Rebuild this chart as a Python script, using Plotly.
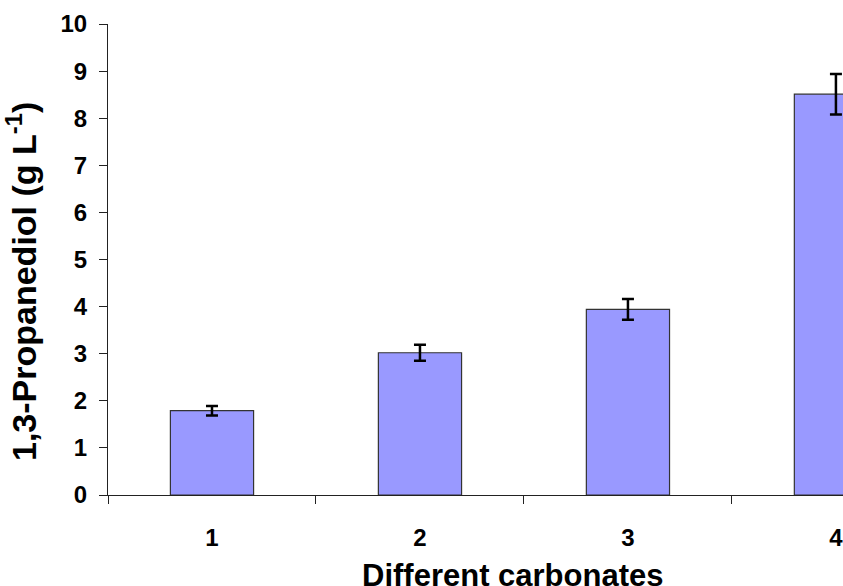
import plotly.graph_objects as go

categories = ["1", "2", "3", "4"]
values = [1.79, 3.02, 3.94, 8.51]
errors = [0.10, 0.17, 0.22, 0.43]
y_ticks = list(range(0, 11))

FONT = "Arial, Liberation Sans, sans-serif"

W, H = 843, 586
ML, MT, MB = 108, 24, 91
PW = W - ML
PH = H - MT - MB

fig = go.Figure()
fig.add_trace(go.Bar(
    x=categories,
    y=values,
    marker=dict(color="#9999FF", line=dict(color="#333333", width=1.2)),
    error_y=dict(type="data", array=errors, visible=True,
                 color="black", thickness=2.5, width=6),
    width=0.4,
))

fig.update_layout(
    width=W, height=H,
    margin=dict(l=ML, r=0, t=MT, b=MB),
    paper_bgcolor="white", plot_bgcolor="white",
    showlegend=False,
    font=dict(family=FONT, color="black"),
)

fig.update_xaxes(
    type="category",
    range=[-0.5, 3.034],
    showline=True, linecolor="#222222", linewidth=1,
    ticks="outside", tickson="boundaries", ticklen=8, tickcolor="#222222",
    tickfont=dict(family=FONT, size=24, color="black", weight="bold"),
    ticklabelstandoff=21,
    showgrid=False, zeroline=False,
)
fig.update_yaxes(
    range=[0, 10],
    tickvals=y_ticks,
    showline=True, linecolor="#222222", linewidth=1,
    ticks="outside", ticklen=8, tickcolor="#222222",
    tickfont=dict(family=FONT, size=24, color="black", weight="bold"),
    ticklabelstandoff=7,
    showgrid=False, zeroline=False,
)

fig.add_annotation(
    text="Different carbonates",
    xref="paper", yref="paper",
    x=(512 - ML) / PW, y=-((575 - (H - MB)) / PH),
    xanchor="center", yanchor="middle",
    showarrow=False,
    font=dict(family=FONT, size=31, color="black", weight="bold"),
)
fig.add_annotation(
    text="1,3-Propanediol (g L<sup>-1</sup>)",
    xref="paper", yref="paper",
    x=(21 - ML) / PW, y=((H - MB) - 282) / PH,
    xanchor="center", yanchor="middle",
    textangle=-90,
    showarrow=False,
    font=dict(family=FONT, size=34, color="black", weight="bold"),
)

fig.write_html(
    "out.html",
    config={"displayModeBar": False},
    post_script="document.body.style.margin='0';document.body.style.overflow='hidden';",
)
